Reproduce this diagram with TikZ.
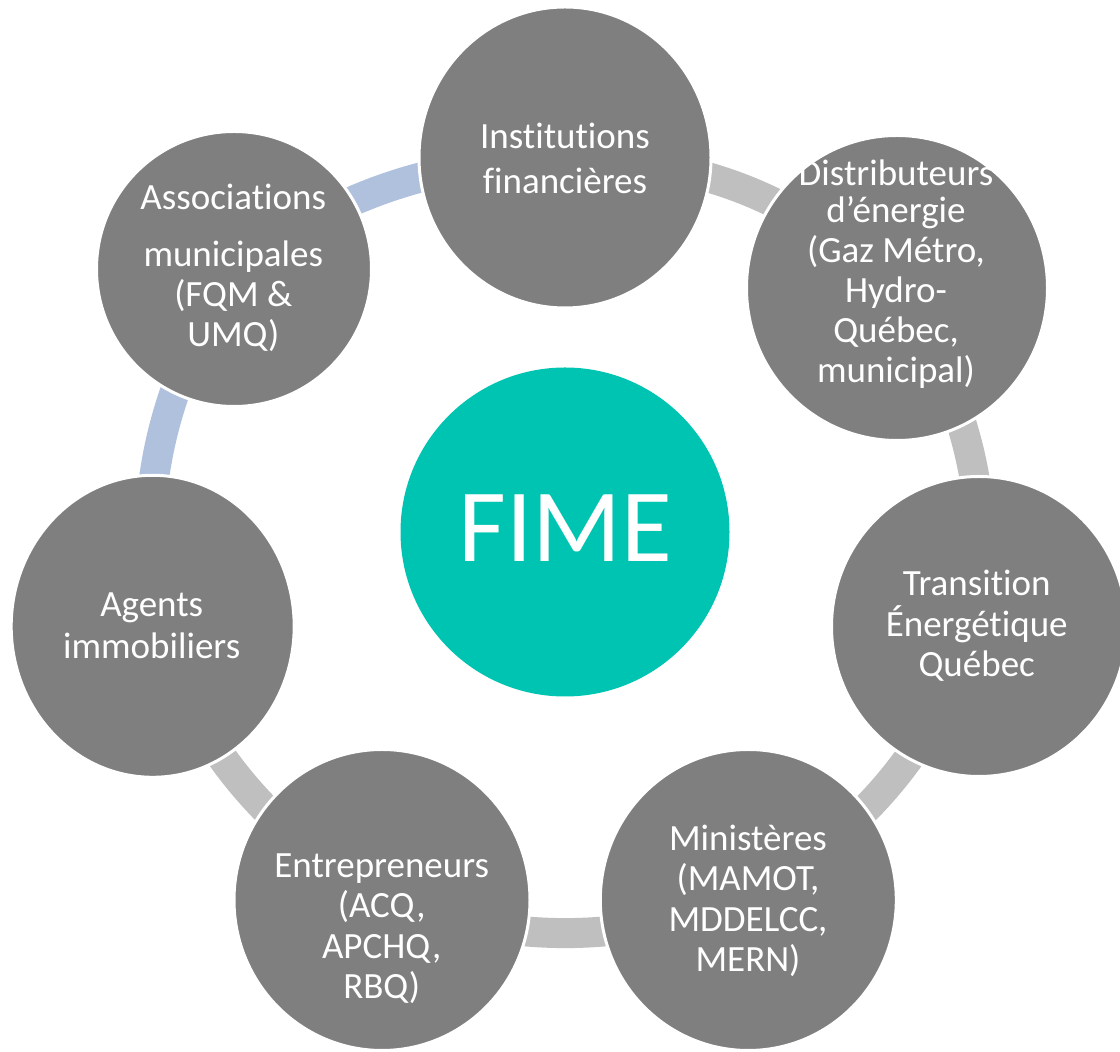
\documentclass[tikz,border=0pt]{standalone}
\usepackage{fontspec}
\setmainfont{Carlito}[Ligatures={NoCommon,NoContextual},Contextuals={NoAlternate}]
\usetikzlibrary{shapes.geometric}
\definecolor{ringgray}{HTML}{7F7F7F}
\definecolor{linkgray}{HTML}{BFBFBF}
\definecolor{linkblue}{HTML}{B0C1DE}
\definecolor{fimeteal}{HTML}{00C4B2}
\pgfdeclarelayer{bg}
\pgfsetlayers{bg,main}
\begin{document}
\begin{tikzpicture}[x=1pt,y=1pt,
  member/.style={ellipse, fill=ringgray, draw=white, line width=3pt, inner sep=0pt, outer sep=0pt},
  hub/.style={circle, fill=fimeteal, inner sep=0pt, outer sep=0pt, minimum size=329pt},
  lbl/.style={text=white, anchor=base, inner sep=0pt, font=\fontsize{37}{41}\selectfont},
  hublbl/.style={text=white, anchor=base, inner sep=0pt, font=\fontsize{104}{116}\selectfont},
  graylink/.style={line width=30pt, draw=linkgray},
  bluelink/.style={line width=30pt, draw=linkblue}]
\useasboundingbox (0,0) rectangle (1120,1052);

% outer members
\node[member, minimum width=292pt, minimum height=301pt] (inst) at (565,894.5) {};
\node[member, minimum width=301pt, minimum height=305pt] (dist) at (897,764) {};
\node[member, minimum width=295pt, minimum height=300pt] (trans) at (979,425.5) {};
\node[member, minimum width=296pt, minimum height=301pt] (mini) at (748.3,152) {};
\node[member, minimum width=296pt, minimum height=301pt] (entr) at (382,152) {};
\node[member, minimum width=283pt, minimum height=302pt] (agents) at (152.7,425.7) {};
\node[member, minimum width=275pt, minimum height=275pt] (assoc) at (234,783) {};

% hub
\node[hub] (fime) at (565,520) {};
\node[hublbl] (fimet) at (565.5,490.3) {FIME};

% connectors
\begin{pgfonlayer}{bg}
\draw[bluelink] (assoc.center) to[bend left=16] (inst.center);
\draw[graylink] (inst.center) to[bend left=20] (dist.center);
\draw[graylink] (dist.center) to[bend left=18] (trans.center);
\draw[graylink] (trans.center) to[bend left=18] (mini.center);
\draw[graylink] (mini.center) to[bend left=18] (entr.center);
\draw[graylink] (entr.center) to[bend left=18] (agents.center);
\draw[bluelink] (agents.center) to[bend left=18] (assoc.center);
\end{pgfonlayer}

% labels
\node[lbl] (inst1) at (565,903.7) {Institutions};
\node[lbl] (inst2) at (565,858.7) {financières};

\node[lbl] (dist1) at (896,866) {Distributeurs};
\node[lbl] (dist2) at (896,829) {d’énergie};
\node[lbl] (dist3) at (896,789.5) {(Gaz Métro,};
\node[lbl] (dist4) at (896,749.5) {Hydro-};
\node[lbl] (dist5) at (896,709.5) {Québec,};
\node[lbl] (dist6) at (896,669.5) {municipal)};

\node[lbl] (trans1) at (976.7,456) {Transition};
\node[lbl] (trans2) at (976.7,415.3) {Énergétique};
\node[lbl] (trans3) at (976.7,375.3) {Québec};

\node[lbl] (mini1) at (748,201.7) {Ministères};
\node[lbl] (mini2) at (748,161.7) {(MAMOT,};
\node[lbl] (mini3) at (748,120) {MDDELCC,};
\node[lbl] (mini4) at (748,80) {MERN)};

\node[lbl] (entr1) at (381.7,174.3) {Entrepreneurs};
\node[lbl] (entr2) at (381.7,134) {(ACQ,};
\node[lbl] (entr3) at (381.7,93.3) {APCHQ,};
\node[lbl] (entr4) at (381.7,53.3) {RBQ)};

\node[lbl] (agents1) at (151.7,435.3) {Agents};
\node[lbl] (agents2) at (151.7,393.7) {immobiliers};

\node[lbl] (assoc1) at (233.3,842) {Associations};
\node[lbl] (assoc2) at (233.3,785.3) {municipales};
\node[lbl] (assoc3) at (233.3,745.3) {(FQM \&};
\node[lbl] (assoc4) at (233.3,705.3) {UMQ)};
\end{tikzpicture}
\end{document}
